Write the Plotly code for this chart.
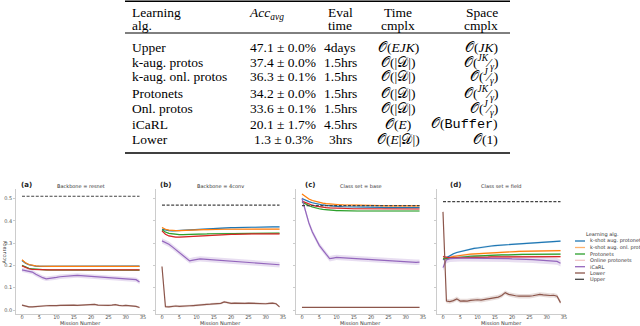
import plotly.graph_objects as go

# ---------------- data ----------------
missions = list(range(35))

series_names = ["k-shot aug. protonets", "k-shot aug. onl. protonets", "Protonets",
                "Online protonets", "iCaRL", "Lower", "Upper"]
panel_tags = ["(a)", "(b)", "(c)", "(d)"]
panel_titles = ["Backbone = resnet", "Backbone = 4conv", "Class set = base", "Class set = field"]
x_ticks = [0, 5, 10, 15, 20, 25, 30, 35]
y_ticks = [0.0, 0.1, 0.2, 0.3, 0.4, 0.5]

# Panel (a): Backbone = resnet
a_kaug = [0.222, 0.210, 0.203, 0.199, 0.197, 0.196, 0.196, 0.196, 0.196, 0.196, 0.196, 0.196,
          0.196, 0.196, 0.197, 0.197, 0.197, 0.197, 0.197, 0.197, 0.197, 0.197, 0.197, 0.197,
          0.197, 0.197, 0.197, 0.197, 0.197, 0.197, 0.197, 0.197, 0.197, 0.197, 0.197]
a_kaug_onl = [0.225, 0.212, 0.204, 0.200, 0.198, 0.197, 0.196, 0.196, 0.196, 0.196, 0.196, 0.196,
              0.196, 0.196, 0.196, 0.196, 0.196, 0.196, 0.196, 0.196, 0.196, 0.196, 0.196, 0.196,
              0.196, 0.196, 0.196, 0.196, 0.196, 0.196, 0.196, 0.196, 0.196, 0.196, 0.196]
a_proto = [0.200, 0.192, 0.187, 0.184, 0.182, 0.181, 0.181, 0.180, 0.180, 0.180, 0.180, 0.180,
           0.180, 0.180, 0.180, 0.180, 0.180, 0.180, 0.180, 0.180, 0.180, 0.180, 0.180, 0.180,
           0.180, 0.180, 0.180, 0.180, 0.180, 0.180, 0.180, 0.180, 0.180, 0.180, 0.179]
a_onl = [0.198, 0.190, 0.185, 0.182, 0.181, 0.180, 0.180, 0.180, 0.180, 0.180, 0.180, 0.180,
         0.180, 0.180, 0.180, 0.180, 0.180, 0.180, 0.180, 0.180, 0.180, 0.180, 0.180, 0.180,
         0.180, 0.180, 0.180, 0.180, 0.180, 0.180, 0.180, 0.180, 0.180, 0.180, 0.180]
a_icarl = [0.180, 0.176, 0.172, 0.170, 0.160, 0.152, 0.145, 0.140, 0.141, 0.143, 0.146, 0.149,
           0.151, 0.152, 0.153, 0.154, 0.155, 0.154, 0.153, 0.152, 0.151, 0.150, 0.149, 0.148,
           0.148, 0.147, 0.146, 0.145, 0.144, 0.143, 0.142, 0.141, 0.139, 0.136, 0.126]
a_lower = [0.022, 0.017, 0.014, 0.014, 0.016, 0.017, 0.018, 0.019, 0.020, 0.019, 0.020, 0.021,
           0.022, 0.020, 0.021, 0.022, 0.021, 0.022, 0.020, 0.021, 0.022, 0.025, 0.022, 0.021,
           0.020, 0.021, 0.022, 0.024, 0.021, 0.019, 0.021, 0.020, 0.018, 0.016, 0.011]
a_upper = 0.510

# Panel (b): Backbone = 4conv
b_kaug = [0.362, 0.358, 0.356, 0.355, 0.356, 0.357, 0.358, 0.359, 0.360, 0.361, 0.362, 0.363,
          0.364, 0.365, 0.366, 0.366, 0.367, 0.367, 0.368, 0.368, 0.369, 0.369, 0.370, 0.370,
          0.370, 0.371, 0.371, 0.371, 0.372, 0.372, 0.372, 0.373, 0.373, 0.373, 0.373]
b_kaug_onl = [0.370, 0.362, 0.358, 0.356, 0.356, 0.356, 0.357, 0.358, 0.358, 0.359, 0.359, 0.360,
              0.360, 0.360, 0.361, 0.361, 0.361, 0.361, 0.362, 0.362, 0.362, 0.362, 0.362, 0.363,
              0.363, 0.363, 0.363, 0.363, 0.363, 0.363, 0.363, 0.363, 0.363, 0.363, 0.363]
b_proto = [0.360, 0.350, 0.344, 0.341, 0.339, 0.338, 0.338, 0.338, 0.339, 0.339, 0.340, 0.340,
           0.341, 0.341, 0.342, 0.342, 0.342, 0.343, 0.343, 0.343, 0.344, 0.344, 0.344, 0.344,
           0.344, 0.345, 0.345, 0.345, 0.345, 0.345, 0.345, 0.345, 0.345, 0.345, 0.345]
b_onl = [0.355, 0.340, 0.332, 0.328, 0.327, 0.327, 0.328, 0.329, 0.330, 0.331, 0.332, 0.333,
         0.334, 0.335, 0.336, 0.337, 0.337, 0.338, 0.338, 0.339, 0.339, 0.339, 0.340, 0.340,
         0.340, 0.340, 0.341, 0.341, 0.341, 0.341, 0.341, 0.341, 0.341, 0.341, 0.341]
b_icarl = [0.310, 0.302, 0.295, 0.283, 0.270, 0.258, 0.245, 0.232, 0.220, 0.224, 0.228, 0.229,
           0.228, 0.227, 0.225, 0.224, 0.223, 0.222, 0.221, 0.220, 0.219, 0.218, 0.217, 0.217,
           0.216, 0.215, 0.214, 0.213, 0.212, 0.211, 0.210, 0.209, 0.208, 0.207, 0.203]
b_lower = [0.195, 0.015, 0.014, 0.016, 0.018, 0.016, 0.018, 0.020, 0.019, 0.020, 0.022, 0.024,
           0.023, 0.025, 0.026, 0.027, 0.028, 0.030, 0.036, 0.032, 0.030, 0.031, 0.030, 0.029,
           0.030, 0.031, 0.030, 0.029, 0.028, 0.027, 0.028, 0.030, 0.031, 0.028, 0.014]
b_upper = 0.470

# Panel (c): Class set = base
c_kaug = [0.500, 0.492, 0.486, 0.481, 0.477, 0.474, 0.471, 0.469, 0.467, 0.466, 0.465, 0.464,
          0.463, 0.463, 0.462, 0.462, 0.461, 0.461, 0.461, 0.460, 0.460, 0.460, 0.460, 0.460,
          0.459, 0.459, 0.459, 0.459, 0.459, 0.459, 0.459, 0.459, 0.459, 0.459, 0.459]
c_kaug_onl = [0.520, 0.508, 0.498, 0.491, 0.486, 0.482, 0.479, 0.477, 0.475, 0.474, 0.473, 0.472,
              0.471, 0.471, 0.470, 0.470, 0.469, 0.469, 0.469, 0.468, 0.468, 0.468, 0.468, 0.468,
              0.467, 0.467, 0.467, 0.467, 0.467, 0.467, 0.467, 0.467, 0.467, 0.467, 0.467]
c_proto = [0.484, 0.475, 0.468, 0.462, 0.457, 0.454, 0.451, 0.449, 0.448, 0.447, 0.446, 0.446,
           0.445, 0.445, 0.445, 0.444, 0.444, 0.444, 0.444, 0.444, 0.444, 0.444, 0.444, 0.444,
           0.444, 0.444, 0.444, 0.444, 0.444, 0.444, 0.444, 0.444, 0.444, 0.444, 0.444]
c_onl = [0.488, 0.481, 0.475, 0.470, 0.466, 0.463, 0.461, 0.459, 0.458, 0.457, 0.456, 0.456,
         0.455, 0.455, 0.455, 0.454, 0.454, 0.454, 0.454, 0.454, 0.454, 0.453, 0.453, 0.453,
         0.453, 0.453, 0.453, 0.453, 0.453, 0.453, 0.453, 0.453, 0.453, 0.453, 0.453]
c_icarl = [0.500, 0.440, 0.390, 0.350, 0.320, 0.290, 0.270, 0.250, 0.230, 0.233, 0.236, 0.235,
           0.234, 0.232, 0.231, 0.230, 0.229, 0.228, 0.227, 0.226, 0.225, 0.224, 0.223, 0.221,
           0.220, 0.219, 0.218, 0.217, 0.216, 0.215, 0.214, 0.214, 0.214, 0.214, 0.215]
c_lower = [0.012, 0.012, 0.012, 0.012, 0.012, 0.012, 0.012, 0.012, 0.012, 0.012, 0.012, 0.012,
           0.012, 0.012, 0.012, 0.012, 0.012, 0.012, 0.012, 0.012, 0.012, 0.012, 0.012, 0.012,
           0.012, 0.012, 0.012, 0.012, 0.012, 0.012, 0.012, 0.012, 0.012, 0.012, 0.012]
c_upper = 0.468

# Panel (d): Class set = field
d_kaug = [0.225, 0.235, 0.245, 0.252, 0.258, 0.262, 0.266, 0.270, 0.273, 0.276, 0.278, 0.281,
          0.283, 0.285, 0.287, 0.289, 0.290, 0.292, 0.293, 0.294, 0.295, 0.296, 0.297, 0.298,
          0.299, 0.300, 0.301, 0.302, 0.303, 0.304, 0.305, 0.306, 0.307, 0.308, 0.309]
d_kaug_onl = [0.230, 0.232, 0.236, 0.240, 0.243, 0.245, 0.247, 0.249, 0.251, 0.252, 0.254, 0.255,
              0.256, 0.257, 0.258, 0.259, 0.260, 0.260, 0.261, 0.261, 0.262, 0.262, 0.263, 0.263,
              0.264, 0.264, 0.264, 0.265, 0.265, 0.265, 0.266, 0.266, 0.266, 0.266, 0.266]
d_proto = [0.232, 0.230, 0.232, 0.234, 0.236, 0.238, 0.239, 0.240, 0.241, 0.242, 0.243, 0.244,
           0.245, 0.245, 0.246, 0.246, 0.247, 0.247, 0.247, 0.248, 0.248, 0.248, 0.249, 0.249,
           0.249, 0.249, 0.250, 0.250, 0.250, 0.250, 0.250, 0.251, 0.251, 0.251, 0.251]
d_onl = [0.240, 0.236, 0.234, 0.234, 0.234, 0.235, 0.235, 0.236, 0.236, 0.236, 0.237, 0.237,
         0.237, 0.237, 0.238, 0.238, 0.238, 0.238, 0.238, 0.239, 0.239, 0.239, 0.239, 0.239,
         0.239, 0.239, 0.239, 0.239, 0.239, 0.239, 0.239, 0.239, 0.239, 0.239, 0.239]
d_icarl = [0.190, 0.225, 0.230, 0.232, 0.233, 0.233, 0.233, 0.233, 0.233, 0.233, 0.232, 0.232,
           0.232, 0.232, 0.231, 0.231, 0.231, 0.230, 0.230, 0.230, 0.229, 0.229, 0.228, 0.228,
           0.227, 0.227, 0.226, 0.225, 0.224, 0.223, 0.222, 0.221, 0.220, 0.218, 0.210]
d_lower = [0.440, 0.040, 0.038, 0.042, 0.050, 0.040, 0.041, 0.040, 0.043, 0.045, 0.046, 0.044,
           0.047, 0.050, 0.052, 0.055, 0.058, 0.065, 0.078, 0.070, 0.066, 0.064, 0.062, 0.061,
           0.060, 0.062, 0.064, 0.066, 0.070, 0.068, 0.066, 0.065, 0.066, 0.062, 0.033]
d_upper = 0.486

# confidence band half-widths per series (blue, orange, green, red, purple, brown)
a_band = [0.003, 0.003, 0.003, 0.003, 0.010, 0.004]
b_band = [0.003, 0.003, 0.003, 0.003, 0.012, 0.005]
c_band = [0.003, 0.003, 0.003, 0.003, 0.012, 0.002]
d_band = [0.004, 0.004, 0.004, 0.004, 0.015, 0.010]

# Table
alg_names = ["Upper", "k-aug. protos", "k-aug. onl. protos", "Protonets", "Onl. protos", "iCaRL", "Lower"]
acc_mean = [47.1, 37.4, 36.3, 34.2, 33.6, 20.1, 1.3]
acc_std = [0.0, 0.0, 0.1, 0.0, 0.1, 1.7, 0.3]
eval_time = ["4days", "1.5hrs", "1.5hrs", "1.5hrs", "1.5hrs", "4.5hrs", "3hrs"]
time_cmplx = ["𝒪(<i>EJK</i>)", "𝒪(|𝒟|)", "𝒪(|𝒟|)", "𝒪(|𝒟|)", "𝒪(|𝒟|)", "𝒪(<i>E</i>)", "𝒪(<i>E</i>|𝒟|)"]
space_cmplx = ["𝒪(<i>JK</i>)",
               "𝒪(<sup><i>JK</i></sup>⁄<sub><i>γ</i></sub>)",
               "𝒪(<sup><i>J</i></sup>⁄<sub><i>γ</i></sub>)",
               "𝒪(<sup><i>JK</i></sup>⁄<sub><i>γ</i></sub>)",
               "𝒪(<sup><i>J</i></sup>⁄<sub><i>γ</i></sub>)",
               "𝒪(<span style='font-family:Liberation Mono'>Buffer</span>)",
               "𝒪(1)"]

# ---------------- styling ----------------
W, H = 640, 326
colors = ["#1f77b4", "#ff7f0e", "#2ca02c", "#d62728", "#9467bd", "#8c564b"]
legend_colors = ["#1f77b4", "#ffb26e", "#2ca02c", "#f2c6c6", "#9467bd", "#8c564b", "#444444"]
band_fill = ["rgba(31,119,180,0.2)", "rgba(255,127,14,0.2)", "rgba(44,160,44,0.2)",
             "rgba(214,39,40,0.2)", "rgba(148,103,189,0.22)", "rgba(140,86,75,0.2)"]


def px(xp):
    return xp / W


def py(yp):
    return 1 - yp / H


panels = [
    ([a_kaug, a_kaug_onl, a_proto, a_onl, a_icarl, a_lower], a_upper, a_band),
    ([b_kaug, b_kaug_onl, b_proto, b_onl, b_icarl, b_lower], b_upper, b_band),
    ([c_kaug, c_kaug_onl, c_proto, c_onl, c_icarl, c_lower], c_upper, c_band),
    ([d_kaug, d_kaug_onl, d_proto, d_onl, d_icarl, d_lower], d_upper, d_band),
]
x_left_px = [16.1, 156.1, 296.1, 437.1]
x_width_px = 129.3
y_bot_px, y_top_px = 314, 189
y_dom = [py(y_bot_px), py(y_top_px)]
x_range = [-1.7, 35.7]
y_range = [(310 - y_bot_px) / 223, (310 - y_top_px) / 223]

fig = go.Figure()
layout = dict(width=W, height=H, margin=dict(l=0, r=0, t=0, b=0, pad=0),
              paper_bgcolor="white", plot_bgcolor="white", showlegend=False)
annotations = []
shapes = []

tick_font = dict(family="DejaVu Sans", size=5, color="#555555")

for i, (series, upper, band) in enumerate(panels):
    k = "" if i == 0 else str(i + 1)
    xa, ya = "x" + k, "y" + k
    for s, vals in enumerate(series):
        lo = [v - band[s] for v in vals]
        hi = [v + band[s] for v in vals]
        fig.add_trace(go.Scatter(x=missions, y=lo, xaxis=xa, yaxis=ya, mode="lines",
                                 line=dict(width=0), hoverinfo="skip"))
        fig.add_trace(go.Scatter(x=missions, y=hi, xaxis=xa, yaxis=ya, mode="lines",
                                 line=dict(width=0), fill="tonexty", fillcolor=band_fill[s],
                                 hoverinfo="skip"))
    for s, vals in enumerate(series):
        fig.add_trace(go.Scatter(x=missions, y=vals, xaxis=xa, yaxis=ya, mode="lines",
                                 name=series_names[s], line=dict(color=colors[s], width=1.2)))
    fig.add_trace(go.Scatter(x=[missions[0], missions[-1]], y=[upper, upper], xaxis=xa, yaxis=ya,
                             mode="lines", name="Upper",
                             line=dict(color="#444444", width=1.2, dash="3px,1.6px")))

    x0 = x_left_px[i]
    layout["xaxis" + k] = dict(domain=[px(x0), px(x0 + x_width_px)], range=x_range, anchor=ya,
                               tickvals=x_ticks, showline=True, linecolor="#cccccc", linewidth=1,
                               ticks="outside", ticklen=2, tickcolor="#cccccc", tickwidth=0.8,
                               tickfont=tick_font, ticklabelstandoff=-4,
                               showgrid=False, zeroline=False)
    layout["yaxis" + k] = dict(domain=y_dom, range=y_range, anchor=xa, tickvals=y_ticks,
                               tickformat=".1f", showticklabels=(i == 0),
                               showline=True, linecolor="#cccccc", linewidth=1,
                               ticks="outside", ticklen=2, tickcolor="#cccccc", tickwidth=0.8,
                               tickfont=tick_font, showgrid=False, zeroline=False)
    cx = x0 + x_width_px / 2
    annotations.append(dict(x=px(cx), y=py(186), xref="paper", yref="paper", showarrow=False,
                            text=panel_titles[i], font=dict(family="DejaVu Sans", size=5, color="#333333"),
                            xanchor="center", yanchor="middle"))
    tag_x = [19, 158, 303, 448][i]
    annotations.append(dict(x=px(tag_x), y=py(185), xref="paper", yref="paper", showarrow=False,
                            text="<b>" + panel_tags[i] + "</b>",
                            font=dict(family="DejaVu Sans", size=7, color="#222222"),
                            xanchor="left", yanchor="middle"))
    annotations.append(dict(x=px(cx), y=py(323), xref="paper", yref="paper", showarrow=False,
                            text="Mission Number", font=dict(family="DejaVu Sans", size=5, color="#333333"),
                            xanchor="center", yanchor="middle"))

annotations.append(dict(x=px(3.5), y=py(252), xref="paper", yref="paper", showarrow=False,
                        text="Accuracy", textangle=-90,
                        font=dict(family="DejaVu Sans", size=5, color="#333333"),
                        xanchor="center", yanchor="middle"))

# manual legend
annotations.append(dict(x=px(602), y=py(235), xref="paper", yref="paper", showarrow=False,
                        text="Learning alg.", font=dict(family="DejaVu Sans", size=5, color="#333333"),
                        xanchor="center", yanchor="middle"))
leg_y = [241, 247.5, 254, 260.3, 266.7, 273, 279.3]
for j, name in enumerate(series_names):
    shapes.append(dict(type="line", xref="paper", yref="paper", x0=px(575), x1=px(585),
                       y0=py(leg_y[j]), y1=py(leg_y[j]),
                       line=dict(color=legend_colors[j], width=1.3,
                                 dash="dash" if name == "Upper" else "solid")))
    annotations.append(dict(x=px(587.5), y=py(leg_y[j]), xref="paper", yref="paper", showarrow=False,
                            text=name, font=dict(family="DejaVu Sans", size=5, color="#333333"),
                            xanchor="left", yanchor="middle"))

# ---------------- table ----------------
tfont = dict(family="Liberation Serif", size=13.5, color="black")
tl, tr = 125, 510
shapes.append(dict(type="line", xref="paper", yref="paper", x0=px(tl), x1=px(tr), y0=py(1.2), y1=py(1.2),
                   line=dict(color="black", width=1.6)))
shapes.append(dict(type="line", xref="paper", yref="paper", x0=px(tl), x1=px(tr), y0=py(33), y1=py(33),
                   line=dict(color="black", width=1)))
shapes.append(dict(type="line", xref="paper", yref="paper", x0=px(tl), x1=px(tr), y0=py(153), y1=py(153),
                   line=dict(color="black", width=1.6)))


def tcell(text, xp, yp, anchor):
    annotations.append(dict(x=px(xp), y=py(yp), xref="paper", yref="paper", showarrow=False,
                            text=text, font=tfont, xanchor=anchor, yanchor="middle"))


col_alg, col_acc, col_eval, col_time, col_space = 130, 283, 340, 398, 500
tcell("Learning", col_alg, 12, "left")
tcell("alg.", col_alg, 25, "left")
tcell("<i>Acc</i><sub><i>avg</i></sub>", 266, 14, "center")
tcell("Eval", col_eval, 12, "center")
tcell("time", col_eval, 25, "center")
tcell("Time", col_time, 12, "center")
tcell("cmplx", col_time, 25, "center")
tcell("Space", col_space, 12, "right")
tcell("cmplx", col_space, 25, "right")

row_y = [47, 62, 77, 93, 108.5, 124, 139]
for r in range(len(alg_names)):
    tcell(alg_names[r], col_alg, row_y[r], "left")
    tcell(f"{acc_mean[r]:.1f} ± {acc_std[r]:.1f}%", col_acc, row_y[r], "center")
    tcell(eval_time[r], col_eval, row_y[r], "center")
    tcell(time_cmplx[r], col_time, row_y[r], "center")
    tcell(space_cmplx[r], col_space, row_y[r], "right")

layout["annotations"] = annotations
layout["shapes"] = shapes
fig.update_layout(**layout)
fig.write_html("out.html", config={"displayModeBar": False},
               post_script="document.body.style.margin='0px';document.body.style.padding='0px';")
